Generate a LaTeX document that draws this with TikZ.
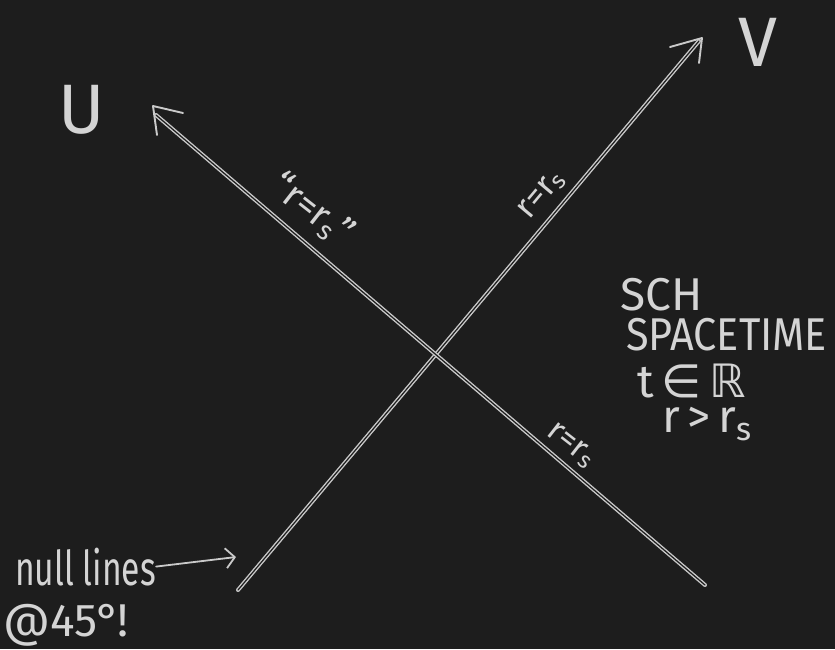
\documentclass[tikz,border=0pt]{standalone}
\usepackage{fontspec}
\setmainfont{Fira Sans}
\newfontfamily\symfont{DejaVu Sans}
\usetikzlibrary{arrows.meta}
\definecolor{board}{HTML}{1D1D1D}
\definecolor{chalk}{HTML}{D4D4D4}
\definecolor{chalkline}{HTML}{CACACA}
\begin{document}
\begin{tikzpicture}[x=1pt,y=-1pt,
  axisline/.style={draw=chalkline, line width=1.4pt, double=board, double distance=1.2pt, line cap=round},
  barb/.style={draw=chalkline, line width=1.9pt, line cap=round, line join=round},
  chalktext/.style={text=chalk, inner sep=0pt},
  pointer/.style={draw=chalkline, line width=1.8pt, line cap=round,
    -{Straight Barb[length=9pt, width=20pt, line width=1.8pt]}}
]
\fill[board] (0,0) rectangle (835,649);
\useasboundingbox (0,0) rectangle (835,649);

% axes
\coordinate (Vs) at (238,590);
\coordinate (Ve) at (699,41);
\coordinate (Vtip) at (702,38);
\coordinate (Vb1) at (670,47);
\coordinate (Vb2) at (699,63);
\coordinate (Us) at (705,585);
\coordinate (Ue) at (156,115);
\coordinate (Utip) at (153,106);
\coordinate (Ub1) at (183,113);
\coordinate (Ub2) at (157,135);

\draw[axisline] (Vs) -- (Ve);
\draw[axisline] (Us) -- (Ue);
\draw[barb] (Vb1) -- (Vtip) -- (Vb2);
\draw[barb] (Ub1) -- (Utip) -- (Ub2);

% axis names
\node[chalktext, font=\fontsize{70}{70}\selectfont] (Ulab) at (82,110) {U};
\node[chalktext, font=\fontsize{70}{70}\selectfont] (Vlab) at (758,42) {V};

% horizon labels
\node[chalktext, font=\fontsize{38}{38}\selectfont, rotate=-38] (h1) at (312,210) {“r=r\textsubscript{s}”};
\node[chalktext, font=\fontsize{34}{34}\selectfont, rotate=50] (h2) at (542,195) {r=r\textsubscript{s}};
\node[chalktext, font=\fontsize{33}{33}\selectfont, rotate=-38] (h3) at (571,446) {r=r\textsubscript{s}};

% right text block
\node[chalktext, font=\fontsize{46}{46}\selectfont, anchor=base west] (sch) at (620,310) {SCH};
\node[chalktext, font=\fontsize{46}{46}\selectfont, anchor=base west, xscale=0.9] (spt) at (626,350) {SPACETIME};
\node[chalktext, font=\fontsize{46}{46}\selectfont, anchor=base west] (tin) at (637,397) {t\,{\symfont ∈}\,{\symfont ℝ}};
\node[chalktext, font=\fontsize{46}{46}\selectfont, anchor=base west] (rgt) at (662,432) {r\,>\,r\textsubscript{s}};

% bottom left
\node[chalktext, font=\fontsize{48}{48}\selectfont, anchor=base west, xscale=0.7] (nl) at (15,585) {null lines};
\node[chalktext, font=\fontsize{46}{46}\selectfont, anchor=base west] (at45) at (3,636) {@45°!};
\coordinate (arrE) at (236,557);
\draw[pointer] (nl.east) -- (arrE);
\end{tikzpicture}
\end{document}
